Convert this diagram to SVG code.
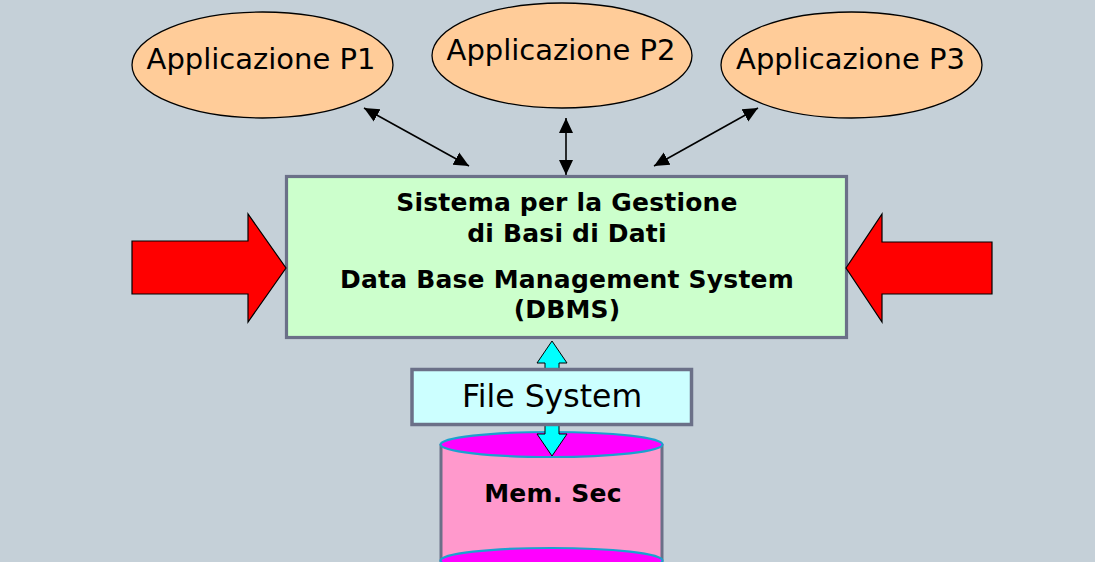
<svg xmlns="http://www.w3.org/2000/svg" width="1095" height="562" viewBox="0 0 1095 562">
  <style>
    .app { fill: #FFCC99; stroke: #000; stroke-width: 1.3; }
    .apptxt { font-family: "DejaVu Sans", Verdana, sans-serif; font-size: 29px; fill: #000; text-anchor: middle; }
    .bold { font-family: "DejaVu Sans", Verdana, sans-serif; font-size: 25px; font-weight: bold; letter-spacing: 0.2px; fill: #000; text-anchor: middle; }
    .conn { stroke: #000; stroke-width: 1.6; fill: none; }
    .red { fill: #FF0000; stroke: #000; stroke-width: 1.2; }
  </style>
  <defs>
    <marker id="ah" markerUnits="userSpaceOnUse" markerWidth="16" markerHeight="16" viewBox="0 0 16 16" refX="15" refY="8" orient="auto-start-reverse">
      <path d="M0,1 L15,8 L0,15 Z" fill="#000"/>
    </marker>
  </defs>
  <rect width="1095" height="562" fill="#C5D0D8"/>

  <g id="app-p1">
    <ellipse class="app" cx="262.5" cy="65" rx="130.5" ry="53"/>
    <text class="apptxt" x="261" y="69">Applicazione P1</text>
  </g>
  <g id="app-p2">
    <ellipse class="app" cx="562" cy="55.5" rx="130" ry="52.5"/>
    <text class="apptxt" x="561" y="60">Applicazione P2</text>
  </g>
  <g id="app-p3">
    <ellipse class="app" cx="851.5" cy="65" rx="130.5" ry="53"/>
    <text class="apptxt" x="850.5" y="69">Applicazione P3</text>
  </g>

  <g id="mem-sec">
    <rect x="440" y="444" width="223" height="118" fill="#FF99CC"/>
    <line x1="441" y1="444" x2="441" y2="562" stroke="#6B7088" stroke-width="3"/>
    <line x1="662" y1="444" x2="662" y2="562" stroke="#6B7088" stroke-width="3"/>
    <ellipse cx="551.5" cy="560.5" rx="111" ry="12.5" fill="#FF00FF" stroke="#1BA1CF" stroke-width="2.2"/>
    <ellipse cx="551.5" cy="444.5" rx="111" ry="12.5" fill="#FF00FF" stroke="#1BA1CF" stroke-width="2.2"/>
    <text class="bold" x="553" y="502">Mem. Sec</text>
  </g>

  <g id="connectors">
    <line class="conn" x1="364" y1="108" x2="469" y2="166" marker-start="url(#ah)" marker-end="url(#ah)"/>
    <line class="conn" x1="566" y1="118" x2="566" y2="175" marker-start="url(#ah)" marker-end="url(#ah)"/>
    <line class="conn" x1="758" y1="108" x2="654" y2="166" marker-start="url(#ah)" marker-end="url(#ah)"/>
    <polygon points="552,341 537,363 545,363 545,434 537,434 552,456 567,434 559,434 559,363 567,363" fill="#00FFFF" stroke="#000" stroke-width="1"/>
  </g>

  <g id="file-system">
    <rect x="412" y="369.5" width="279.5" height="55" fill="#CCFFFF" stroke="#6B7088" stroke-width="3.5"/>
    <text x="552" y="407" font-family="DejaVu Sans, Verdana, sans-serif" font-size="31.5" text-anchor="middle" fill="#000">File System</text>
  </g>

  <g id="dbms">
    <rect x="286.5" y="176.5" width="560" height="161" fill="#CCFFCC" stroke="#6B7088" stroke-width="3.2"/>
    <text class="bold" x="567" y="211">Sistema per la Gestione</text>
    <text class="bold" x="567" y="242">di Basi di Dati</text>
    <text class="bold" x="567" y="288">Data Base Management System</text>
    <text class="bold" x="567" y="318">(DBMS)</text>
  </g>

  <g id="input-left">
    <polygon class="red" points="132,241 248,241 248,214 286,268 248,322 248,294 132,294"/>
  </g>
  <g id="input-right">
    <polygon class="red" points="846,268 882,214 882,242 992,242 992,294 882,294 882,322"/>
  </g>
</svg>
